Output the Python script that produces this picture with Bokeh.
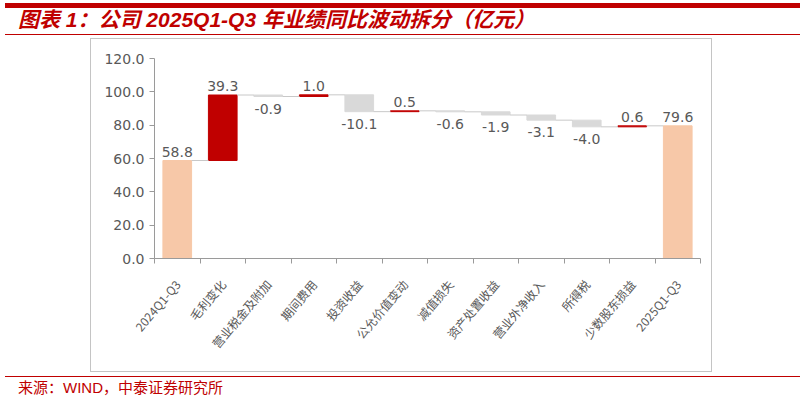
from bokeh.plotting import figure
from bokeh.layouts import column
from bokeh.models import ColumnDataSource, FixedTicker, Range1d, NumeralTickFormatter, Div
from bokeh.core.properties import value
from bokeh.embed import file_html
from bokeh.resources import INLINE

# ---- data ----
categories = ["2024Q1-Q3", "毛利变化", "营业税金及附加", "期间费用", "投资收益", "公允价值变动",
              "减值损失", "资产处置收益", "营业外净收入", "所得税", "少数股东损益", "2025Q1-Q3"]
start_value = 58.8
deltas = [39.3, -0.9, 1.0, -10.1, 0.5, -0.6, -1.9, -3.1, -4.0, 0.6]
end_value = 79.6
y_ticks = [0, 20, 40, 60, 80, 100, 120]
title_text = "图表 1：公司 2025Q1-Q3 年业绩同比波动拆分（亿元）"
source_text = "来源：WIND，中泰证券研究所"

TOTAL_COLOR = "#F7C8A8"
UP_COLOR = "#C00000"
DOWN_COLOR = "#D9D9D9"
RED = "#C00000"
BAR_W = 0.63

# ---- waterfall geometry ----
xs = [i + 0.5 for i in range(len(categories))]
bottoms, tops, colors, labels, kinds = [0], [start_value], [TOTAL_COLOR], [f"{start_value:.1f}"], ["pos"]
level = start_value
levels_after = [level]
for d in deltas:
    nl = level + d
    bottoms.append(min(level, nl)); tops.append(max(level, nl))
    colors.append(UP_COLOR if d >= 0 else DOWN_COLOR)
    labels.append(f"{d:.1f}"); kinds.append("pos" if d >= 0 else "neg")
    level = nl
    levels_after.append(level)
bottoms.append(0); tops.append(end_value); colors.append(TOTAL_COLOR)
labels.append(f"{end_value:.1f}"); kinds.append("pos")

src = ColumnDataSource(dict(x=xs, bottom=bottoms, top=tops, color=colors))

p = figure(width=622, height=334, x_range=Range1d(0, len(categories)), y_range=Range1d(0, 120),
           output_backend="svg", toolbar_location=None,
           min_border_left=63, min_border_right=13, min_border_top=19, min_border_bottom=115,
           margin=(3, 0, 0, 90), styles={"border": "1px solid #C4C4C4"})
p.outline_line_color = None
p.xgrid.visible = False
p.ygrid.visible = False
p.background_fill_color = "white"
p.border_fill_color = "white"

p.vbar(x="x", bottom="bottom", top="top", width=BAR_W, color="color", source=src)

# connectors
cx0 = [xs[i] + BAR_W / 2 for i in range(len(xs) - 1)]
cx1 = [xs[i + 1] - BAR_W / 2 for i in range(len(xs) - 1)]
p.segment(x0=cx0, x1=cx1, y0=levels_after, y1=levels_after, line_color="#C8C8C8", line_width=1)

# data labels
pos_x = [xs[i] for i in range(len(xs)) if kinds[i] == "pos"]
pos_y = [tops[i] for i in range(len(xs)) if kinds[i] == "pos"]
pos_t = [labels[i] for i in range(len(xs)) if kinds[i] == "pos"]
neg_x = [xs[i] for i in range(len(xs)) if kinds[i] == "neg"]
neg_y = [bottoms[i] for i in range(len(xs)) if kinds[i] == "neg"]
neg_t = [labels[i] for i in range(len(xs)) if kinds[i] == "neg"]
p.text(x=pos_x, y=pos_y, text=pos_t, text_align="center", text_baseline="bottom", y_offset=-4,
       text_font=value("DejaVu Sans"), text_font_size="14px", text_color="#595959")
p.text(x=neg_x, y=neg_y, text=neg_t, text_align="center", text_baseline="top", y_offset=7,
       text_font=value("DejaVu Sans"), text_font_size="14px", text_color="#595959")

# x axis
xa = p.xaxis[0]
xa.ticker = FixedTicker(ticks=xs, minor_ticks=list(range(len(categories) + 1)))
xa.major_label_overrides = {x: c for x, c in zip(xs, categories)}
xa.major_tick_line_color = None
xa.major_tick_out = 0
xa.major_tick_in = 0
xa.minor_tick_line_color = "#9A9A9A"
xa.minor_tick_out = 5
xa.minor_tick_in = 0
xa.axis_line_color = "#9A9A9A"
xa.major_label_orientation = 0.87
xa.major_label_standoff = 18
xa.major_label_text_font = "Noto Sans CJK SC"
xa.major_label_text_font_size = "12px"
xa.major_label_text_color = "#595959"

# y axis
ya = p.yaxis[0]
ya.ticker = FixedTicker(ticks=y_ticks, minor_ticks=[])
ya.formatter = NumeralTickFormatter(format="0.0")
ya.major_tick_out = 5
ya.major_tick_in = 0
ya.major_tick_line_color = "#9A9A9A"
ya.axis_line_color = "#9A9A9A"
ya.major_label_standoff = 5
ya.major_label_text_font = "DejaVu Sans"
ya.major_label_text_font_size = "14px"
ya.major_label_text_color = "#595959"

# header / footer
FONT = "'Liberation Sans','Noto Sans CJK SC',sans-serif"
top_div = Div(
    text=(f'<div style="width:795px;height:26px;border-top:5px solid {RED};border-bottom:1px solid {RED};'
          f'box-sizing:content-box;position:relative;">'
          f'<span style="position:absolute;left:13px;top:-1px;line-height:26px;color:{RED};'
          f'font-family:{FONT};font-size:21px;font-weight:bold;font-style:italic;'
          f'white-space:nowrap;">{title_text}</span></div>'),
    width=795, height=32, margin=(3, 0, 0, 5))
bottom_div = Div(
    text=(f'<div style="width:795px;height:20px;border-top:1px solid {RED};position:relative;">'
          f'<span style="position:absolute;left:13px;top:1px;line-height:20px;color:{RED};'
          f'font-family:{FONT};font-size:15px;white-space:nowrap;">{source_text}</span></div>'),
    width=795, height=21, margin=(4, 0, 0, 5))

layout = column(top_div, p, bottom_div, spacing=0)
open("out.html", "w").write(file_html(layout, INLINE))
